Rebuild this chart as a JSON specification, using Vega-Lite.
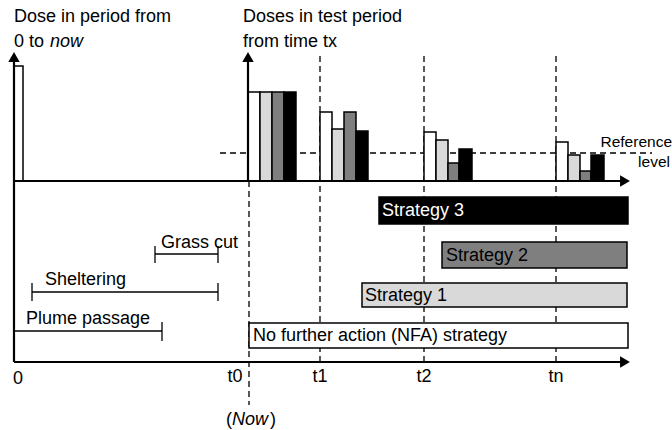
{
  "$schema": "https://vega.github.io/schema/vega-lite/v6.json",
  "width": 672,
  "height": 430,
  "autosize": {"type": "fit", "contains": "padding"},
  "padding": 0,
  "background": "white",
  "config": {"view": {"stroke": null}, "font": "Liberation Sans"},
  "datasets": {
    "rects": [
      {"x0": 14, "x1": 23, "y0": 66, "y1": 181, "shade": "white"},
      {"x0": 248, "x1": 260, "y0": 92, "y1": 181, "shade": "white"},
      {"x0": 260, "x1": 272, "y0": 92, "y1": 181, "shade": "light"},
      {"x0": 272, "x1": 284, "y0": 92, "y1": 181, "shade": "dark"},
      {"x0": 284, "x1": 296, "y0": 92, "y1": 181, "shade": "black"},
      {"x0": 320, "x1": 332, "y0": 112, "y1": 181, "shade": "white"},
      {"x0": 332, "x1": 344, "y0": 129, "y1": 181, "shade": "light"},
      {"x0": 344, "x1": 356, "y0": 112, "y1": 181, "shade": "dark"},
      {"x0": 356, "x1": 368, "y0": 131, "y1": 181, "shade": "black"},
      {"x0": 424, "x1": 436, "y0": 132, "y1": 181, "shade": "white"},
      {"x0": 436, "x1": 448, "y0": 140, "y1": 181, "shade": "light"},
      {"x0": 448, "x1": 459, "y0": 163, "y1": 181, "shade": "dark"},
      {"x0": 459, "x1": 472, "y0": 149, "y1": 181, "shade": "black"},
      {"x0": 556, "x1": 568, "y0": 142, "y1": 181, "shade": "white"},
      {"x0": 568, "x1": 580, "y0": 155, "y1": 181, "shade": "light"},
      {"x0": 580, "x1": 591, "y0": 171, "y1": 181, "shade": "dark"},
      {"x0": 591, "x1": 604, "y0": 155, "y1": 181, "shade": "black"},
      {"x0": 379, "x1": 628, "y0": 197, "y1": 224, "shade": "black"},
      {"x0": 442, "x1": 627, "y0": 242, "y1": 268, "shade": "dark"},
      {"x0": 362, "x1": 627, "y0": 283, "y1": 307, "shade": "light"},
      {"x0": 249, "x1": 628, "y0": 323, "y1": 348, "shade": "white"}
    ],
    "axes": [
      {"x0": 14, "x1": 622, "y0": 181, "y1": 181},
      {"x0": 14, "x1": 622, "y0": 362, "y1": 362},
      {"x0": 14, "x1": 14, "y0": 60, "y1": 362},
      {"x0": 248, "x1": 248, "y0": 60, "y1": 181}
    ],
    "spans": [
      {"x0": 14, "x1": 162, "y0": 331, "y1": 331},
      {"x0": 162, "x1": 162, "y0": 322, "y1": 341},
      {"x0": 32, "x1": 218, "y0": 292, "y1": 292},
      {"x0": 32, "x1": 32, "y0": 283, "y1": 301},
      {"x0": 218, "x1": 218, "y0": 283, "y1": 301},
      {"x0": 155, "x1": 218, "y0": 254, "y1": 254},
      {"x0": 155, "x1": 155, "y0": 246, "y1": 263},
      {"x0": 218, "x1": 218, "y0": 246, "y1": 263}
    ],
    "dashes": [
      {"x0": 220, "x1": 652, "y0": 153, "y1": 153},
      {"x0": 249, "x1": 249, "y0": 181, "y1": 405},
      {"x0": 320, "x1": 320, "y0": 56, "y1": 362},
      {"x0": 424, "x1": 424, "y0": 56, "y1": 362},
      {"x0": 556, "x1": 556, "y0": 56, "y1": 362}
    ],
    "arrows": [
      {"x": 14, "y": 57, "dir": "up"},
      {"x": 248, "y": 57, "dir": "up"},
      {"x": 625, "y": 181, "dir": "right"},
      {"x": 625, "y": 362, "dir": "right"}
    ],
    "texts": [
      {"x": 14, "y": 17, "label": "Dose in period from", "align": "left", "italic": false, "ink": "black"},
      {"x": 14, "y": 42, "label": "0 to", "align": "left", "italic": false, "ink": "black"},
      {"x": 50, "y": 42, "label": "now", "align": "left", "italic": true, "ink": "black"},
      {"x": 243, "y": 17, "label": "Doses in test period", "align": "left", "italic": false, "ink": "black"},
      {"x": 243, "y": 42, "label": "from time tx", "align": "left", "italic": false, "ink": "black"},
      {"x": 672, "y": 142, "label": "Reference", "align": "right", "italic": false, "ink": "black"},
      {"x": 670, "y": 162, "label": "level", "align": "right", "italic": false, "ink": "black"},
      {"x": 382, "y": 211, "label": "Strategy 3", "align": "left", "italic": false, "ink": "white"},
      {"x": 446, "y": 256, "label": "Strategy 2", "align": "left", "italic": false, "ink": "black"},
      {"x": 365, "y": 296, "label": "Strategy 1", "align": "left", "italic": false, "ink": "black"},
      {"x": 253, "y": 336, "label": "No further action (NFA) strategy", "align": "left", "italic": false, "ink": "black"},
      {"x": 161, "y": 243, "label": "Grass cut", "align": "left", "italic": false, "ink": "black"},
      {"x": 45, "y": 280, "label": "Sheltering", "align": "left", "italic": false, "ink": "black"},
      {"x": 26, "y": 319, "label": "Plume passage", "align": "left", "italic": false, "ink": "black"},
      {"x": 18, "y": 379, "label": "0", "align": "center", "italic": false, "ink": "black"},
      {"x": 235, "y": 377, "label": "t0", "align": "center", "italic": false, "ink": "black"},
      {"x": 320, "y": 377, "label": "t1", "align": "center", "italic": false, "ink": "black"},
      {"x": 424, "y": 377, "label": "t2", "align": "center", "italic": false, "ink": "black"},
      {"x": 556, "y": 377, "label": "tn", "align": "center", "italic": false, "ink": "black"},
      {"x": 226, "y": 420, "label": "(", "align": "left", "italic": false, "ink": "black"},
      {"x": 232, "y": 420, "label": "Now", "align": "left", "italic": true, "ink": "black"},
      {"x": 270, "y": 420, "label": ")", "align": "left", "italic": false, "ink": "black"}
    ]
  },
  "layer": [
    {
      "data": {"name": "dashes"},
      "mark": {"type": "rule", "color": "black", "strokeWidth": 1.3, "strokeDash": [6, 4]},
      "encoding": {
        "x": {"field": "x0", "type": "quantitative", "scale": {"domain": [0, 672], "nice": false, "zero": false}, "axis": null},
        "x2": {"field": "x1"},
        "y": {"field": "y0", "type": "quantitative", "scale": {"domain": [0, 430], "nice": false, "zero": false, "reverse": true}, "axis": null},
        "y2": {"field": "y1"}
      }
    },
    {
      "data": {"name": "rects"},
      "mark": {"type": "rect", "stroke": "black", "strokeWidth": 1.5},
      "encoding": {
        "x": {"field": "x0", "type": "quantitative", "scale": {"domain": [0, 672], "nice": false, "zero": false}, "axis": null},
        "x2": {"field": "x1"},
        "y": {"field": "y0", "type": "quantitative", "scale": {"domain": [0, 430], "nice": false, "zero": false, "reverse": true}, "axis": null},
        "y2": {"field": "y1"},
        "fill": {"field": "shade", "type": "nominal", "scale": {"domain": ["white", "light", "dark", "black"], "range": ["#ffffff", "#d9d9d9", "#7f7f7f", "#000000"]}, "legend": null}
      }
    },
    {
      "data": {"name": "axes"},
      "mark": {"type": "rule", "color": "black", "strokeWidth": 2.2},
      "encoding": {
        "x": {"field": "x0", "type": "quantitative", "axis": null},
        "x2": {"field": "x1"},
        "y": {"field": "y0", "type": "quantitative", "axis": null},
        "y2": {"field": "y1"}
      }
    },
    {
      "data": {"name": "spans"},
      "mark": {"type": "rule", "color": "black", "strokeWidth": 1.3},
      "encoding": {
        "x": {"field": "x0", "type": "quantitative", "axis": null},
        "x2": {"field": "x1"},
        "y": {"field": "y0", "type": "quantitative", "axis": null},
        "y2": {"field": "y1"}
      }
    },
    {
      "data": {"name": "arrows"},
      "mark": {"type": "point", "filled": true, "color": "black", "opacity": 1, "size": 130},
      "encoding": {
        "x": {"field": "x", "type": "quantitative", "axis": null},
        "y": {"field": "y", "type": "quantitative", "axis": null},
        "shape": {"field": "dir", "type": "nominal", "scale": {"domain": ["up", "right"], "range": ["triangle-up", "triangle-right"]}, "legend": null}
      }
    },
    {
      "data": {"name": "texts"},
      "transform": [{"filter": "datum.align === 'left' && !datum.italic"}],
      "mark": {"type": "text", "align": "left", "baseline": "middle", "fontSize": 18},
      "encoding": {
        "x": {"field": "x", "type": "quantitative", "axis": null},
        "y": {"field": "y", "type": "quantitative", "axis": null},
        "text": {"field": "label"},
        "color": {"field": "ink", "type": "nominal", "scale": {"domain": ["black", "white"], "range": ["#000000", "#ffffff"]}, "legend": null}
      }
    },
    {
      "data": {"name": "texts"},
      "transform": [{"filter": "datum.align === 'left' && datum.italic"}],
      "mark": {"type": "text", "align": "left", "baseline": "middle", "fontSize": 18, "fontStyle": "italic"},
      "encoding": {
        "x": {"field": "x", "type": "quantitative", "axis": null},
        "y": {"field": "y", "type": "quantitative", "axis": null},
        "text": {"field": "label"},
        "color": {"field": "ink", "type": "nominal", "legend": null}
      }
    },
    {
      "data": {"name": "texts"},
      "transform": [{"filter": "datum.align === 'center'"}],
      "mark": {"type": "text", "align": "center", "baseline": "middle", "fontSize": 18},
      "encoding": {
        "x": {"field": "x", "type": "quantitative", "axis": null},
        "y": {"field": "y", "type": "quantitative", "axis": null},
        "text": {"field": "label"},
        "color": {"field": "ink", "type": "nominal", "legend": null}
      }
    },
    {
      "data": {"name": "texts"},
      "transform": [{"filter": "datum.align === 'right'"}],
      "mark": {"type": "text", "align": "right", "baseline": "middle", "fontSize": 15.5},
      "encoding": {
        "x": {"field": "x", "type": "quantitative", "axis": null},
        "y": {"field": "y", "type": "quantitative", "axis": null},
        "text": {"field": "label"},
        "color": {"field": "ink", "type": "nominal", "legend": null}
      }
    }
  ]
}
